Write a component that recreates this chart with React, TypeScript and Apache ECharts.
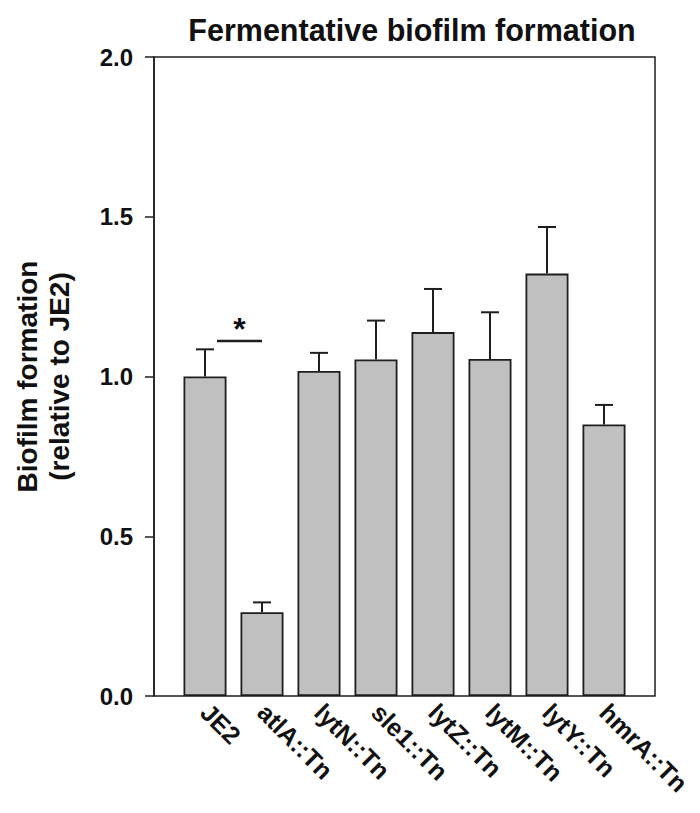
import React, { useEffect, useRef } from "react";
import * as echarts from "echarts";

const categories = ["JE2", "atlA::Tn", "lytN::Tn", "sle1::Tn", "lytZ::Tn", "lytM::Tn", "lytY::Tn", "hmrA::Tn"];
const means = [1.0, 0.262, 1.017, 1.053, 1.139, 1.055, 1.322, 0.85];
const upper = [1.085, 0.293, 1.074, 1.175, 1.274, 1.201, 1.468, 0.911];
const yTicks = [0, 0.5, 1.0, 1.5, 2.0];
// significance bracket: from category 0 to category 1 at this level
const sigPair = [0, 1];
const sigLevel = 1.111;

const FONT = "'Liberation Sans', Arial, sans-serif";
const INK = "#1e1e1e";

export default function App() {
  const ref = useRef<HTMLDivElement>(null);
  useEffect(() => {
    if (!ref.current) return;
    const chart = echarts.init(ref.current, null, { renderer: "svg" });
    const top = 57;
    const bottom = 813 - 696;
    chart.setOption({
      animation: false,
      backgroundColor: "#ffffff",
      title: {
        text: "Fermentative biofilm formation",
        left: 407,
        top: 9,
        textAlign: "center",
        textStyle: { fontFamily: FONT, fontWeight: "bold", fontSize: 30.5, color: "#111" },
      },
      grid: [
        { left: 154, top, width: 501, bottom, show: true, borderColor: INK, borderWidth: 1.5, backgroundColor: "transparent" },
        { left: 176.5, top, width: 456, bottom },
      ],
      xAxis: [
        { type: "value", gridIndex: 0, min: 0, max: 1, show: false },
        {
          type: "category",
          gridIndex: 1,
          data: categories,
          axisLine: { show: false },
          axisTick: { show: false },
          axisLabel: {
            rotate: -45,
            margin: 12,
            interval: 0,
            fontFamily: FONT,
            fontWeight: "bold",
            fontSize: 25,
            color: "#111",
          },
        },
      ],
      yAxis: [
        {
          type: "value",
          gridIndex: 0,
          min: 0,
          max: 2,
          interval: 0.5,
          axisLine: { show: true, lineStyle: { color: INK, width: 1.5 } },
          axisTick: { show: true, length: 9, inside: false, lineStyle: { color: INK, width: 1.5 } },
          splitLine: { show: false },
          axisLabel: {
            margin: 21,
            fontFamily: FONT,
            fontWeight: "bold",
            fontSize: 24,
            color: "#111",
            formatter: (v: number) => (yTicks.includes(v) ? v.toFixed(1) : ""),
          },
          name: "Biofilm formation\n(relative to JE2)",
          nameLocation: "middle",
          nameGap: 79,
          nameTextStyle: { fontFamily: FONT, fontWeight: "bold", fontSize: 28, color: "#111", lineHeight: 32 },
        },
        { type: "value", gridIndex: 1, min: 0, max: 2, show: false },
      ],
      series: [
        {
          type: "bar",
          xAxisIndex: 1,
          yAxisIndex: 1,
          data: means,
          barWidth: 43,
          itemStyle: { color: "#c0c0c0", borderColor: INK, borderWidth: 1.8 },
          z: 2,
        },
        {
          type: "custom",
          xAxisIndex: 1,
          yAxisIndex: 1,
          data: categories.map((_, i) => [i, means[i], upper[i]]),
          z: 3,
          renderItem: (params: any, api: any) => {
            const b = api.coord([api.value(0), api.value(1)]);
            const t = api.coord([api.value(0), api.value(2)]);
            const half = 9;
            return {
              type: "group",
              children: [
                { type: "line", shape: { x1: t[0], y1: b[1], x2: t[0], y2: t[1] }, style: { stroke: INK, lineWidth: 2 } },
                { type: "line", shape: { x1: t[0] - half, y1: t[1], x2: t[0] + half, y2: t[1] }, style: { stroke: INK, lineWidth: 2 } },
              ],
            };
          },
        },
        {
          type: "custom",
          xAxisIndex: 1,
          yAxisIndex: 1,
          data: [[sigPair[0], sigPair[1], sigLevel]],
          z: 4,
          renderItem: (params: any, api: any) => {
            const p0 = api.coord([api.value(0), api.value(2)]);
            const p1 = api.coord([api.value(1), api.value(2)]);
            const band = api.size([1, 0])[0];
            const x1 = p0[0] + 0.21 * band;
            const x2 = p1[0];
            return {
              type: "group",
              children: [
                { type: "line", shape: { x1, y1: p0[1], x2, y2: p0[1] }, style: { stroke: INK, lineWidth: 2.5 } },
                {
                  type: "text",
                  x: (x1 + x2) / 2,
                  y: p0[1] + 4,
                  style: {
                    text: "*",
                    fontFamily: FONT,
                    fontWeight: "bold",
                    fontSize: 32,
                    fill: "#111",
                    align: "center",
                    verticalAlign: "bottom",
                  },
                },
              ],
            };
          },
        },
      ],
    });
    return () => chart.dispose();
  }, []);
  return <div ref={ref} style={{ width: 700, height: 813, position: "absolute", left: 0, top: 0 }} />;
}
